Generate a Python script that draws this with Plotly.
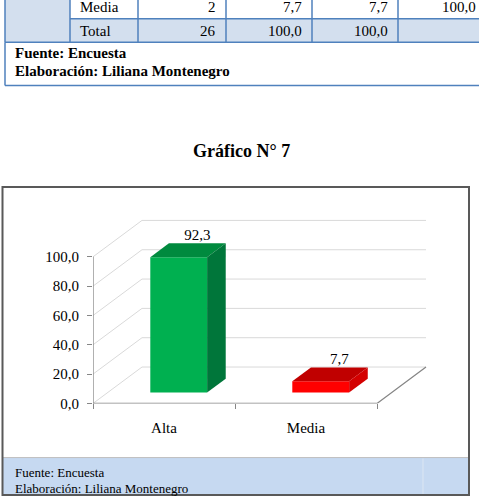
import plotly.graph_objects as go

# ---------------- data ----------------
categorias = ["Alta", "Media"]
porcentajes = [92.3, 7.7]
etiquetas = ["92,3", "7,7"]
y_ticks = [0, 20, 40, 60, 80, 100]

tabla_filas = ["Media", "Total"]
tabla_frecuencia = ["2", "26"]
tabla_porcentaje = ["7,7", "100,0"]
tabla_valido = ["7,7", "100,0"]
tabla_acumulado = ["100,0", ""]

fuente = "Fuente: Encuesta"
elaboracion = "Elaboración: Liliana Montenegro"
titulo = "Gráfico N° 7"

# ---------------- style ----------------
W, H = 479, 500
FONT = "Liberation Serif, Times New Roman, serif"
front_cols = ["#00B050", "#FF0000"]
top_cols = ["#008A3E", "#C00000"]
side_cols = ["#00763A", "#D40000"]
GRID = "#D9D9D9"
AXIS = "#868686"
TBL = "#4F81BD"

# pixel geometry of the plot area
PX_X0, PX_X1 = 93, 445        # domain in pixels (left edge = x -0.5)
PX_Y0, PX_Y1 = 410, 205       # domain in pixels (bottom edge = y 0)
XS = 142.0                    # px per x unit
YS = 1.49                     # px per y unit
DX = 49 / XS                  # depth offset in x units
DY = 37 / YS                  # depth offset in y units
F1, F2 = 0.30, 0.68           # bar front/back depth fractions
BW = 0.40                     # bar width (x units)

xr = [-0.5, -0.5 + (PX_X1 - PX_X0) / XS]
yr = [0, (PX_Y0 - PX_Y1) / YS]


def px(x):
    return x / W


def py(y):
    return 1 - y / H


fig = go.Figure()

# gridlines (walls)
for v in y_ticks:
    fig.add_trace(go.Scatter(
        x=[-0.5, -0.5 + DX, 1.5 + DX], y=[v, v + DY, v + DY],
        mode="lines", line=dict(color=GRID, width=1), hoverinfo="skip", showlegend=False))

# axis lines
fig.add_trace(go.Scatter(x=[-0.5, -0.5], y=[0, y_ticks[-1]], mode="lines",
                         line=dict(color=AXIS, width=1.3), hoverinfo="skip", showlegend=False))
fig.add_trace(go.Scatter(x=[-0.5, 1.5, 1.5 + DX], y=[0, 0, DY], mode="lines",
                         line=dict(color=AXIS, width=1.3), hoverinfo="skip", showlegend=False))

# bars (3-D prisms standing on the floor at depth F1)
base = F1 * DY
bdx = (F2 - F1) * DX
bdy = (F2 - F1) * DY
for i, v in enumerate(porcentajes):
    xc = i + F1 * DX
    x0, x1 = xc - BW / 2, xc + BW / 2
    top = base + v
    # front face
    fig.add_trace(go.Scatter(x=[x0, x1, x1, x0, x0], y=[base, base, top, top, base],
                             mode="lines", fill="toself", fillcolor=front_cols[i],
                             line=dict(width=0, color=front_cols[i]), hoverinfo="skip", showlegend=False))
    # top face
    fig.add_trace(go.Scatter(x=[x0, x1, x1 + bdx, x0 + bdx, x0], y=[top, top, top + bdy, top + bdy, top],
                             mode="lines", fill="toself", fillcolor=top_cols[i],
                             line=dict(width=0, color=top_cols[i]), hoverinfo="skip", showlegend=False))
    # side face
    fig.add_trace(go.Scatter(x=[x1, x1, x1 + bdx, x1 + bdx, x1], y=[base, top, top + bdy, base + bdy, base],
                             mode="lines", fill="toself", fillcolor=side_cols[i],
                             line=dict(width=0, color=side_cols[i]), hoverinfo="skip", showlegend=False))
    # value label
    fig.add_trace(go.Scatter(x=[xc + bdx], y=[top + bdy], mode="text", text=[etiquetas[i]],
                             textposition="top center", textfont=dict(family=FONT, size=15, color="#000"),
                             hoverinfo="skip", showlegend=False, cliponaxis=False))

fig.update_layout(
    width=W, height=H, autosize=False,
    margin=dict(l=0, r=0, t=0, b=0),
    paper_bgcolor="white", plot_bgcolor="white",
    font=dict(family=FONT, color="#000"),
    separators=",.",
    xaxis=dict(domain=[px(PX_X0), px(PX_X1)], range=xr, showgrid=False, zeroline=False,
               showline=False, tickvals=[0, 1], ticktext=categorias,
               ticks="outside", ticklen=5, tickcolor="rgba(0,0,0,0)",
               ticklabelstandoff=6,
               tickfont=dict(family=FONT, size=15, color="#000"),
               minor=dict(tickvals=[-0.5, 0.5, 1.5], ticks="outside", ticklen=5,
                          tickcolor=AXIS, tickwidth=1, showgrid=False)),
    yaxis=dict(domain=[py(PX_Y0), py(PX_Y1)], range=yr, showgrid=False, zeroline=False,
               showline=False, tickvals=y_ticks, tickformat=".1f",
               ticks="outside", ticklen=5, tickcolor=AXIS,
               ticklabelstandoff=5,
               tickfont=dict(family=FONT, size=15, color="#000")),
)

shapes = []
ann = []

# ---------- table fragment at top ----------
col_x = [70, 138, 226, 312, 398, 486]
# fills
shapes.append(dict(type="rect", xref="paper", yref="paper", x0=px(5), x1=px(70), y0=py(-5), y1=py(43),
                   fillcolor="#D3DFEE", line=dict(width=0), layer="below"))
shapes.append(dict(type="rect", xref="paper", yref="paper", x0=px(70), x1=px(486), y0=py(19), y1=py(43),
                   fillcolor="#D3DFEE", line=dict(width=0), layer="below"))
# borders
for xv in [5] + col_x:
    shapes.append(dict(type="line", xref="paper", yref="paper", x0=px(xv), x1=px(xv), y0=py(-5), y1=py(43),
                       line=dict(color=TBL, width=1.5)))
shapes.append(dict(type="line", xref="paper", yref="paper", x0=px(70), x1=px(486), y0=py(19), y1=py(19),
                   line=dict(color=TBL, width=1.5)))
shapes.append(dict(type="line", xref="paper", yref="paper", x0=px(5), x1=px(486), y0=py(43), y1=py(43),
                   line=dict(color=TBL, width=1.5)))
# fuente box
shapes.append(dict(type="line", xref="paper", yref="paper", x0=px(5), x1=px(5), y0=py(43), y1=py(87),
                   line=dict(color=TBL, width=1.5)))
shapes.append(dict(type="line", xref="paper", yref="paper", x0=px(5), x1=px(486), y0=py(87), y1=py(87),
                   line=dict(color=TBL, width=1.5)))

row_centers = [7, 31]
for r in range(2):
    yc = py(row_centers[r])
    ann.append(dict(text=tabla_filas[r], x=px(78), y=yc, xanchor="left", yanchor="middle"))
    vals = [tabla_frecuencia[r], tabla_porcentaje[r], tabla_valido[r], tabla_acumulado[r]]
    for k, val in enumerate(vals):
        if val:
            ann.append(dict(text=val, x=px(col_x[k + 2] - 8), y=yc, xanchor="right", yanchor="middle"))
ann.append(dict(text="<b>" + fuente + "</b>", x=px(13), y=py(54), xanchor="left", yanchor="middle"))
ann.append(dict(text="<b>" + elaboracion + "</b>", x=px(13), y=py(72), xanchor="left", yanchor="middle"))

# title
ann.append(dict(text="<b>" + titulo + "</b>", x=px(241), y=py(153), xanchor="center", yanchor="middle",
                font=dict(family=FONT, size=18, color="#000")))

# ---------- chart box & footer ----------
shapes.append(dict(type="rect", xref="paper", yref="paper", x0=px(3), x1=px(468), y0=py(465), y1=py(502),
                   fillcolor="#C6D9F1", line=dict(width=0), layer="below"))
shapes.append(dict(type="line", xref="paper", yref="paper", x0=px(3), x1=px(468), y0=py(465), y1=py(465),
                   line=dict(color="#BFBFBF", width=1)))
shapes.append(dict(type="line", xref="paper", yref="paper", x0=px(423), x1=px(423), y0=py(466), y1=py(502),
                   line=dict(color="#DCE6F2", width=1)))
shapes.append(dict(type="rect", xref="paper", yref="paper", x0=px(2.5), x1=px(469), y0=py(190), y1=py(503),
                   fillcolor="rgba(0,0,0,0)", line=dict(color="#595959", width=2)))
ann.append(dict(text=fuente, x=px(13), y=py(480), xanchor="left", yanchor="middle",
                font=dict(family=FONT, size=13, color="#000")))
ann.append(dict(text=elaboracion, x=px(13), y=py(496), xanchor="left", yanchor="middle",
                font=dict(family=FONT, size=13, color="#000")))

for a in ann:
    a.setdefault("font", dict(family=FONT, size=15, color="#000"))
    a.update(xref="paper", yref="paper", showarrow=False)

fig.update_layout(shapes=shapes, annotations=ann)
fig.write_html("out.html")
